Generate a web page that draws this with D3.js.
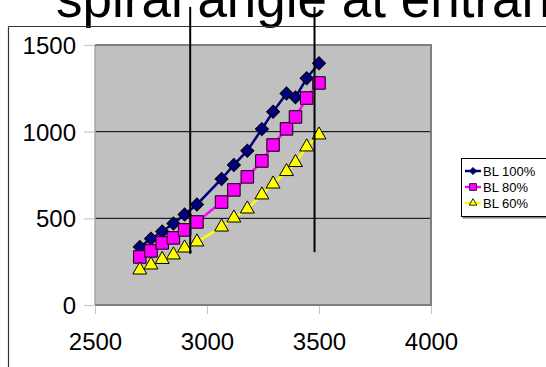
<!DOCTYPE html>
<html lang="en">
<head>
  <meta charset="UTF-8">
  <title>spiral angle at entrance</title>
  <style>
    body { margin: 0; background: #fff; }
    text { font-family: "Liberation Sans", Arial, sans-serif; }
  </style>
</head>
<body>
    <script src="https://cdn.jsdelivr.net/npm/d3@7"></script>
    <script>
      const width = 546
      const height = 367

      // values
      const xValues = [2700, 2750, 2800, 2850, 2900, 2955, 3065, 3120, 3180, 3245, 3295, 3355, 3395, 3445, 3500]
      const bl100 = [335, 382, 424, 470, 522, 580, 727, 808, 890, 1015, 1115, 1220, 1198, 1308, 1395]
      const bl80 = [277, 312, 358, 387, 433, 479, 594, 664, 739, 831, 923, 1016, 1085, 1194, 1281]
      const bl60 = [202, 231, 263, 289, 329, 364, 450, 502, 554, 635, 698, 770, 822, 912, 981]
      const seriesNames = ["BL 100%", "BL 80%", "BL 60%"]
      const xTicks = [2500, 3000, 3500, 4000]
      const yTicks = [0, 500, 1000, 1500]
      // the two black vertical lines drawn over the chart
      const guideX = [2925, 3480]
      const guideBottom = [295, 305]
      const guideTop = 1720

      const series = [
        {name: seriesNames[0], values: bl100, color: "#000080", symbol: "diamond"},
        {name: seriesNames[1], values: bl80, color: "#ff00ff", symbol: "square"},
        {name: seriesNames[2], values: bl60, color: "#ffff00", symbol: "triangle"}
      ]

      const x = d3.scaleLinear().domain([2500, 4000]).range([95, 431])
      const y = d3.scaleLinear().domain([0, 1500]).range([305, 45])

      const svg = d3.select("body")
        .append("svg")
        .attr("width", width)
        .attr("height", height)

      // title, cut at the top of the picture
      svg.append("text")
        .attr("x", 56)
        .attr("y", 17)
        .attr("font-size", 53)
        .attr("fill", "#000")
        .text("spiral angle at entrance")

      // outer chart border (top and left)
      svg.append("line").attr("x1", 8.5).attr("x2", width).attr("y1", 26.5).attr("y2", 26.5)
        .attr("stroke", "#333").attr("stroke-width", 1.2)
      svg.append("line").attr("x1", 8.5).attr("x2", 8.5).attr("y1", 26.5).attr("y2", height)
        .attr("stroke", "#333").attr("stroke-width", 1.2)

      // plot wall
      svg.append("rect")
        .attr("x", x(2500)).attr("y", y(1500))
        .attr("width", x(4000) - x(2500)).attr("height", y(0) - y(1500))
        .attr("fill", "#c0c0c0")

      // gridlines
      svg.append("g")
        .selectAll("line")
        .data(yTicks.filter(d => d > 0 && d < 1500))
        .enter()
        .append("line")
        .attr("x1", x(2500)).attr("x2", x(4000))
        .attr("y1", d => y(d)).attr("y2", d => y(d))
        .attr("stroke", "#000").attr("stroke-width", 1)

      // wall border
      svg.append("line").attr("x1", x(2500)).attr("x2", x(2500)).attr("y1", y(1500)).attr("y2", y(0))
        .attr("stroke", "#a8a8a8").attr("stroke-width", 1.5)
      svg.append("path")
        .attr("d", `M${x(2500)},${y(1500)}H${x(4000)}V${y(0)}H${x(2500)}`)
        .attr("fill", "none").attr("stroke", "#808080").attr("stroke-width", 2)

      // axes
      const yAxis = svg.append("g")
        .attr("transform", `translate(${x(2500) - 1},0)`)
        .call(d3.axisLeft(y).tickValues(yTicks).tickFormat(d3.format("d")).tickSize(10).tickPadding(8))
      const xAxis = svg.append("g")
        .attr("transform", `translate(0,${y(0) + 1})`)
        .call(d3.axisBottom(x).tickValues(xTicks).tickFormat(d3.format("d")).tickSize(8).tickPadding(19))
      ;[yAxis, xAxis].forEach(a => {
        a.select(".domain").remove()
        a.selectAll(".tick line").attr("stroke", "#c8c8c8").attr("stroke-width", 1.2)
        a.selectAll(".tick text")
          .attr("font-family", "'Liberation Sans', Arial, sans-serif")
          .attr("font-size", 24).attr("fill", "#000")
      })
      yAxis.selectAll(".tick text").attr("dy", "0.36em")

      const symbols = {
        diamond: {type: d3.symbolSquare, size: 84, rotate: 45},
        square: {type: d3.symbolSquare, size: 156, rotate: 0},
        triangle: {type: d3.symbolTriangle, size: 84, rotate: 0}
      }

      const line = d3.line()
        .x((d, i) => x(xValues[i]))
        .y(d => y(d))

      series.forEach(s => {
        svg.append("path")
          .datum(s.values)
          .attr("d", line)
          .attr("fill", "none")
          .attr("stroke", s.color)
          .attr("stroke-width", 2.5)
      })
      series.forEach(s => {
        const sym = symbols[s.symbol]
        svg.append("g")
          .selectAll("path")
          .data(s.values)
          .enter()
          .append("path")
          .attr("d", d3.symbol().type(sym.type).size(sym.size))
          .attr("transform", (d, i) => `translate(${x(xValues[i])},${y(d)}) rotate(${sym.rotate})`)
          .attr("fill", s.color)
          .attr("stroke", "#000")
          .attr("stroke-width", 1)
      })

      // black vertical lines
      svg.append("g")
        .selectAll("line")
        .data(guideX)
        .enter()
        .append("line")
        .attr("x1", d => x(d)).attr("x2", d => x(d))
        .attr("y1", y(guideTop))
        .attr("y2", (d, i) => y(guideBottom[i]))
        .attr("stroke", "#000").attr("stroke-width", 2)

      // legend
      const legend = svg.append("g").attr("transform", "translate(461,158)")
      legend.append("rect")
        .attr("x", 1.5).attr("y", 1.5).attr("width", 100).attr("height", 59)
        .attr("fill", "#808080")
      legend.append("rect")
        .attr("x", 0.5).attr("y", 0.5).attr("width", 100).attr("height", 58)
        .attr("fill", "#fff").attr("stroke", "#000").attr("stroke-width", 1)
      const rows = legend.selectAll("g.row")
        .data(series)
        .enter()
        .append("g")
        .attr("class", "row")
        .attr("transform", (d, i) => `translate(0,${13 + i * 16})`)
      rows.append("line")
        .attr("x1", 4).attr("x2", 20).attr("y1", 0).attr("y2", 0)
        .attr("stroke", d => d.color).attr("stroke-width", 2.5)
      rows.append("path")
        .attr("d", d => d3.symbol().type(symbols[d.symbol].type).size(symbols[d.symbol].size * 0.3)())
        .attr("transform", d => `translate(12,0) rotate(${symbols[d.symbol].rotate})`)
        .attr("fill", d => d.color)
        .attr("stroke", "#000").attr("stroke-width", 0.8)
      rows.append("text")
        .attr("x", 22).attr("y", 0).attr("dy", "0.36em")
        .attr("font-size", 13)
        .text(d => d.name)
    </script>
</body>
</html>
